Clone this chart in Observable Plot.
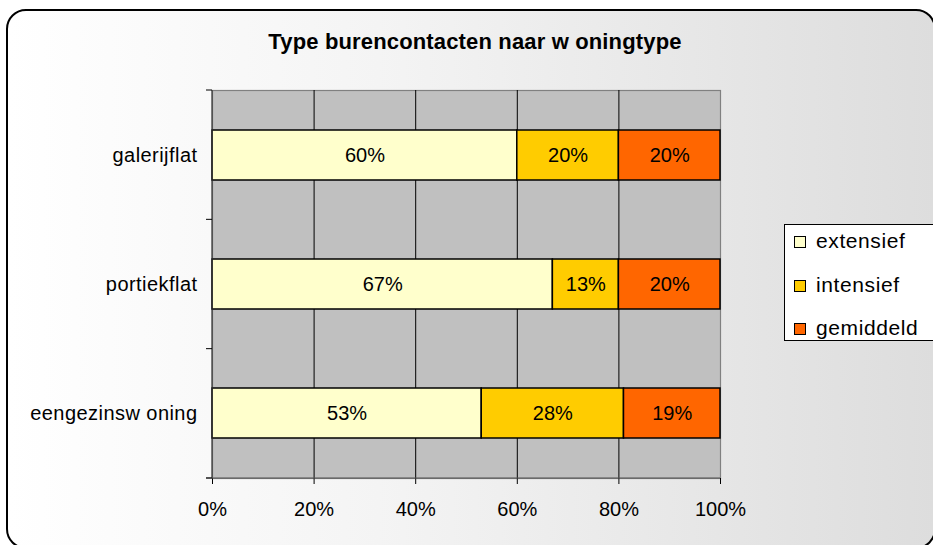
<!DOCTYPE html>
<html>
<head>
<meta charset="utf-8">
<script src="https://cdn.jsdelivr.net/npm/d3@7"></script>
<script src="https://cdn.jsdelivr.net/npm/@observablehq/plot@0.6"></script>
<style>
  html, body { margin: 0; padding: 0; width: 933px; height: 545px; overflow: hidden; background: #fff; }
  #wrap { position: relative; width: 933px; height: 545px; overflow: hidden; font-family: "Liberation Sans", Arial, sans-serif; }
  #bg { position: absolute; left: 6px; top: 9px; width: 930px; height: 540px; border: 2px solid #000; border-radius: 20px;
        background: linear-gradient(to right, #ffffff 0%, #f4f4f4 40%, #dddddd 100%); box-sizing: border-box; }
  #title { position: absolute; left: 0; width: 950px; top: 29px; text-align: center; font-weight: bold; font-size: 22px; letter-spacing: 0.15px; color: #000; }
  #chart { position: absolute; left: 0; top: 0; }
  #legend { position: absolute; left: 784px; top: 224px; width: 160px; height: 117px; border: 1px solid #000; background: #fff; box-sizing: border-box; }
  .item { position: absolute; left: 9px; height: 26px; display: flex; align-items: center; font-size: 21px; color: #000; letter-spacing: 0.6px; }
  .sw { width: 10px; height: 10px; border: 1px solid #000; margin-right: 10px; flex: none; position: relative; top: 1px; }
</style>
</head>
<body>
<div id="wrap">
  <div id="bg"></div>
  <div id="chart"></div>
  <div id="title"></div>
  <div id="legend"></div>
</div>
<script>
const titleText = "Type burencontacten naar w oningtype";
const categories = ["galerijflat", "portiekflat", "eengezinsw oning"];
const series = ["extensief", "intensief", "gemiddeld"];
const extensief = [60, 67, 53];
const intensief = [20, 13, 28];
const gemiddeld = [20, 20, 19];
const colors = ["#ffffcc", "#ffcc00", "#ff6600"];
const xTicks = [0, 20, 40, 60, 80, 100];
const gridTicks = [20, 40, 60, 80];

const seriesValues = [extensief, intensief, gemiddeld];
const data = [];
series.forEach((s, si) => {
  categories.forEach((c, ci) => {
    data.push({cat: c, series: s, value: seriesValues[si][ci]});
  });
});

// category boundary axis (Excel-style ticks between categories)
function yBoundaryAxis(index, scales, values, dims) {
  const g = d3.create("svg:g");
  const top = dims.marginTop, bottom = dims.height - dims.marginBottom, left = dims.marginLeft;
  const right = dims.width - dims.marginRight;
  const n = categories.length;
  const step = (bottom - top) / n;
  g.append("line").attr("x1", left).attr("x2", left).attr("y1", top).attr("y2", bottom)
    .attr("stroke", "#333").attr("stroke-width", 1.2);
  g.append("line").attr("x1", left - 6).attr("x2", right).attr("y1", bottom).attr("y2", bottom)
    .attr("stroke", "#555").attr("stroke-width", 1.2);
  for (let i = 0; i <= n; i++) {
    const y = top + i * step;
    g.append("line").attr("x1", left - 6).attr("x2", left).attr("y1", y).attr("y2", y)
      .attr("stroke", "#000").attr("stroke-width", 1);
  }
  return g.node();
}

const chart = Plot.plot({
  width: 933,
  height: 545,
  marginLeft: 212,
  marginRight: 213,
  marginTop: 90,
  marginBottom: 67,
  style: {background: "transparent", fontFamily: "'Liberation Sans', Arial, sans-serif", fontSize: "20px", color: "#000"},
  x: {domain: [0, 100], axis: null, label: null},
  y: {domain: categories, paddingInner: 0.61, paddingOuter: 0.305, axis: null, label: null},
  color: {domain: series, range: colors},
  marks: [
    Plot.frame({fill: "#c0c0c0", stroke: "#808080", strokeWidth: 1.2}),
    Plot.ruleX(gridTicks, {x: d => d, stroke: "#000", strokeWidth: 1}),
    Plot.barX(data, Plot.stackX({x: "value", y: "cat", z: "series", fill: "series", order: null, stroke: "#000", strokeWidth: 1.5})),
    Plot.text(data, Plot.stackX({x: "value", y: "cat", z: "series", order: null, text: d => d.value + "%", fill: "#000", fontSize: 20})),
    Plot.text(categories, {y: d => d, frameAnchor: "left", textAnchor: "end", dx: -15, fill: "#000", fontSize: 20}),
    Plot.axisX(xTicks, {anchor: "bottom", label: null, tickSize: 6, tickPadding: 17, tickFormat: d => d + "%", fontSize: 20, stroke: "#000"}),
    yBoundaryAxis
  ]
});
d3.select(chart).selectAll("text").filter(function() { return categories.includes(this.textContent); })
  .style("letter-spacing", "0.45px");
document.getElementById("chart").appendChild(chart);
document.getElementById("title").textContent = titleText;

const legend = document.getElementById("legend");
const legendTops = [3, 47, 90];
series.forEach((s, i) => {
  const item = document.createElement("div");
  item.className = "item";
  item.style.top = legendTops[i] + "px";
  const sw = document.createElement("span");
  sw.className = "sw";
  sw.style.background = colors[i];
  const t = document.createElement("span");
  t.textContent = s;
  item.appendChild(sw);
  item.appendChild(t);
  legend.appendChild(item);
});
</script>
</body>
</html>
